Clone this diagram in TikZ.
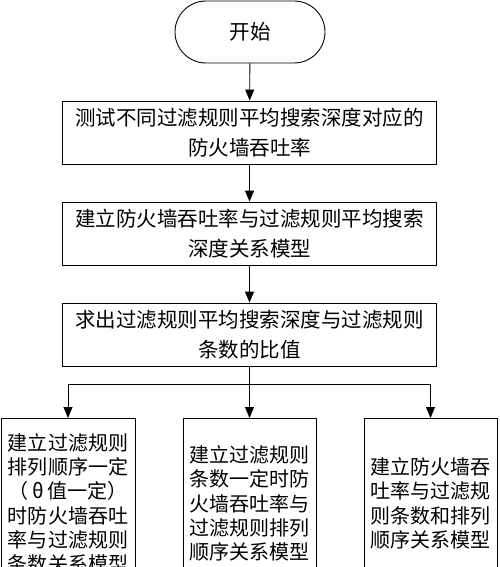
\documentclass[tikz,border=0pt]{standalone}
\usepackage{fontspec}
\newfontfamily\cjk{Noto Sans CJK SC}
\usetikzlibrary{arrows.meta,shapes.misc}
\begin{document}
\begin{tikzpicture}[x=1pt,y=-1pt,
  line width=0.9pt,
  conn/.style={-{Triangle[width=9pt,length=11pt]}},
  wide/.style={draw,rectangle,minimum width=374pt,minimum height=63pt,inner sep=0pt,align=center,
     font=\cjk\fontsize{20.5pt}{30pt}\selectfont},
  col/.style={draw,rectangle,anchor=north,minimum height=170pt,inner sep=0pt,align=center,
     font=\cjk\fontsize{20pt}{24.3pt}\selectfont},
  startbox/.style={draw,rounded rectangle,minimum width=150pt,minimum height=62pt,inner sep=0pt,
     font=\cjk\fontsize{20.5pt}{24pt}\selectfont}]
\useasboundingbox (0,0) rectangle (500,567);
\clip (0,0) rectangle (500,567);
\node[startbox] (s) at (250,32) {开始};
\node[wide] (b1) at (249.5,132.5) {测试不同过滤规则平均搜索深度对应的\\防火墙吞吐率};
\node[wide] (b2) at (249.5,233.5) {建立防火墙吞吐率与过滤规则平均搜索\\深度关系模型};
\node[wide] (b3) at (249.5,334.5) {求出过滤规则平均搜索深度与过滤规则\\条数的比值};
\node[col,minimum width=134pt] (l) at (68,418) {建立过滤规则\\排列顺序一定\\（\hspace{4pt}θ\hspace{4pt}值一定）\\时防火墙吞吐\\率与过滤规则\\条数关系模型};
\node[col,minimum width=133pt] (m) at (249.5,418) {建立过滤规则\\条数一定时防\\火墙吞吐率与\\过滤规则排列\\顺序关系模型};
\node[col,minimum width=133pt] (r) at (430.5,418) {建立防火墙吞\\吐率与过滤规\\则条数和排列\\顺序关系模型};
\coordinate (j) at (249.5,384);
\draw[conn] (s) -- (b1);
\draw[conn] (b1) -- (b2);
\draw[conn] (b2) -- (b3);
\draw (b3.south) -- (j);
\draw[conn] (j) -| (l.north);
\draw[conn] (j) -- (m.north);
\draw[conn] (j) -| (r.north);
\end{tikzpicture}
\end{document}
